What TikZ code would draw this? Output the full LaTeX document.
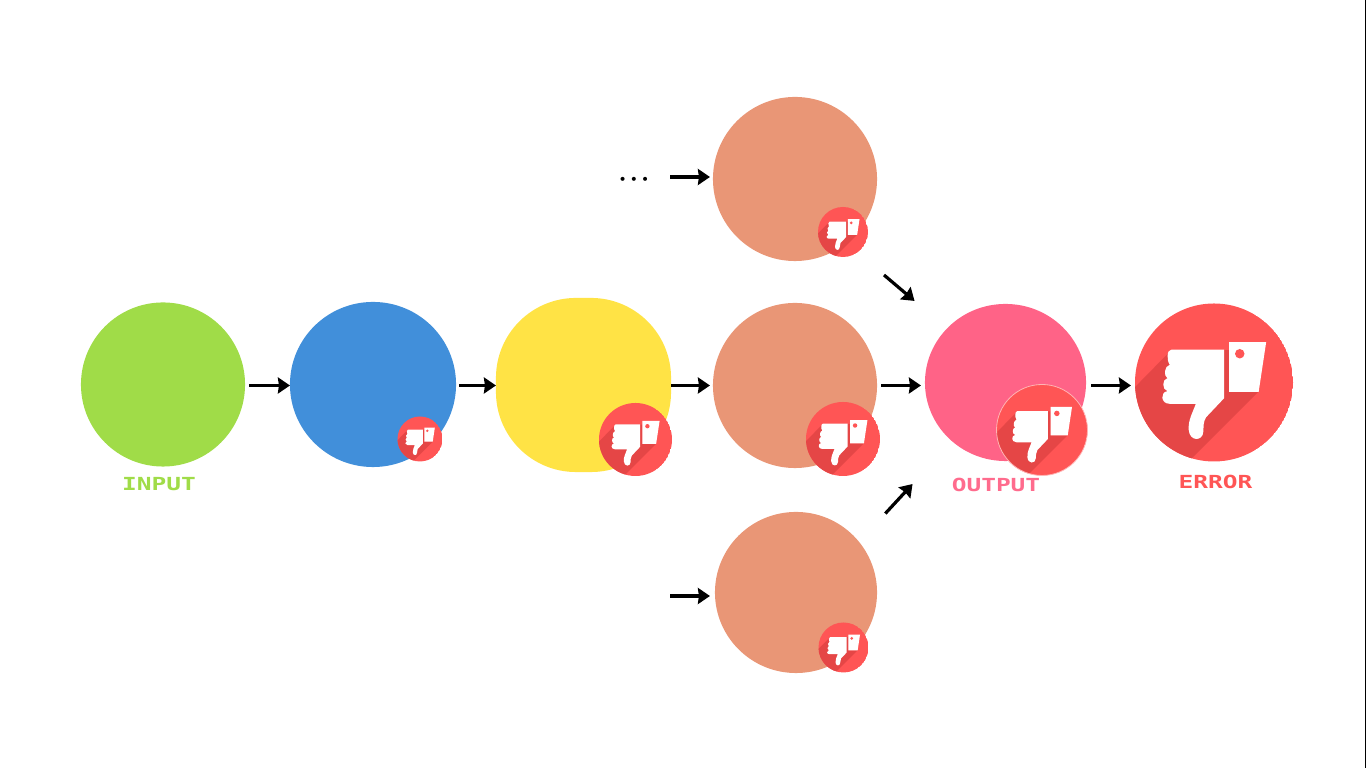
\documentclass[tikz,border=0pt]{standalone}
\usepackage{fontspec}
\usetikzlibrary{arrows.meta}
\usetikzlibrary{shapes.geometric}
\newfontfamily\labelfont{DejaVu Sans Mono}[FakeStretch=1.36]
\definecolor{inputgreen}{HTML}{A0DC48}
\definecolor{hiddenblue}{HTML}{418FDA}
\definecolor{hiddenyellow}{HTML}{FFE345}
\definecolor{hiddensalmon}{HTML}{E99676}
\definecolor{outputpink}{HTML}{FF6387}
\definecolor{errorred}{HTML}{FF5555}
\definecolor{shadowred}{HTML}{E54646}
\definecolor{rimred}{HTML}{FFB4B4}
\tikzset{
  blob/.style={ellipse, inner sep=0pt, outer sep=0pt},
  tag/.style={inner sep=0pt, font=\labelfont\bfseries\fontsize{5.12}{6}\selectfont},
  flow/.style={-{Stealth[length=0.12cm, width=0.16cm, inset=0.01cm]}, line width=0.032cm, black},
  thumbdown/.pic={
    \begin{scope}
      \clip (0,0) circle (100);
      \fill[errorred] (0,0) circle (100);
      \fill[shadowred] (-110,16) -- (-54,-41) -- (19,-41) -- (19,12) -- (56,12) -- (-44,112) -- (-110,112) -- cycle;
    \end{scope}
    \fill[white] (-54,-41.5) -- (12.7,-41.5) -- (12.7,20) -- (-10,44)
      .. controls (-14,50) and (-13,56) .. (-13.5,62)
      .. controls (-14,75) and (-31,75) .. (-32,60)
      .. controls (-33,48) and (-27,38) .. (-23,27) -- (-56,27)
      .. controls (-68,27) and (-68,12) .. (-59,11)
      .. controls (-66,9) and (-66,-4) .. (-59,-5.5)
      .. controls (-64,-8) and (-63,-21) .. (-56,-22.5)
      .. controls (-60,-28) and (-60,-41.5) .. (-54,-41.5) -- cycle;
    \fill[white] (19,-51) -- (66,-51) -- (56.5,12) -- (19,12) -- cycle;
    \fill[errorred] (32.6,-36.4) circle (6);
  }
}
\begin{document}
\begin{tikzpicture}[x=0.01cm, y=-0.01cm]
\useasboundingbox (0,0) rectangle (1366,768);
\fill[black] (1365,0) rectangle (1366,768);
\node[blob, fill=inputgreen, minimum width=1.64cm, minimum height=1.64cm] (inp) at (163,384.5) {};
\node[blob, fill=hiddenblue, minimum width=1.66cm, minimum height=1.65cm] (hidA) at (373,384.5) {};
\node[rounded corners=0.8cm, fill=hiddenyellow, inner sep=0pt, outer sep=0pt, minimum width=1.75cm, minimum height=1.74cm] (hidB) at (583.5,385) {};
\node[blob, fill=hiddensalmon, minimum width=1.64cm, minimum height=1.64cm] (hidTop) at (795,179) {};
\node[blob, fill=hiddensalmon, minimum width=1.64cm, minimum height=1.65cm] (hidMid) at (795,385.5) {};
\node[blob, fill=hiddensalmon, minimum width=1.62cm, minimum height=1.61cm] (hidBot) at (796,592.5) {};
\node[blob, fill=outputpink, minimum width=1.61cm, minimum height=1.57cm] (outp) at (1005.5,382.5) {};
\node[circle, inner sep=0pt, outer sep=0pt, minimum size=1.58cm] (err) at (1214,382.5) {};
\pic[shift={(420,439)}, scale=0.225] {thumbdown};
\pic[shift={(635.5,439.5)}, scale=0.365] {thumbdown};
\pic[shift={(843,232)}, scale=0.25] {thumbdown};
\pic[shift={(843,439)}, scale=0.37] {thumbdown};
\pic[shift={(843.5,647.5)}, scale=0.25] {thumbdown};
\pic[shift={(1042,430)}, scale=0.455] {thumbdown};
\draw[rimred, line width=0.008cm] (1042,430) circle (45.5);
\pic[shift={(1214,382.5)}, scale=0.79] {thumbdown};
\node[tag, text=inputgreen] (inpLabel) at (159,484.5) {INPUT};
\node[tag, text=outputpink!95!white] (outLabel) at (996,484.5) {OUTPUT};
\node[tag, text=errorred] (errLabel) at (1215.5,481.5) {ERROR};
\node[inner sep=0pt, font=\fontsize{6.6}{9}\selectfont\boldmath] (dots) at (634,179) {$\cdot\mskip-2.8mu\cdot\mskip-2.8mu\cdot$};
\coordinate (topIn) at (670,177);
\coordinate (botIn) at (670,596);
\draw[flow, shorten <=0.04cm] (inp.east |- 0,385.5) -- (hidA.west |- 0,385.5);
\draw[flow, shorten <=0.03cm] (hidA.east |- 0,385.5) -- (hidB.west |- 0,385.5);
\draw[flow, shorten >=0.03cm] (hidB.east |- 0,385.5) -- (hidMid.west |- 0,385.5);
\draw[flow, shorten <=0.04cm, shorten >=0.04cm] (hidMid.east |- 0,385.5) -- (outp.west |- 0,385.5);
\draw[flow, shorten <=0.05cm, shorten >=0.04cm] (outp.east |- 0,385.5) -- (err.west |- 0,385.5);
\draw[flow, shorten >=0.03cm] (topIn) -- (hidTop.west |- topIn);
\draw[flow, shorten >=0.05cm] (botIn) -- (hidBot.west |- botIn);
\draw[flow] ([shift={(31,38)}]hidTop.south east) -- ([shift={(-34,-26)}]outp.north west);
\draw[flow] ([shift={(32,-22)}]hidBot.north east) -- ([shift={(-36,46)}]outp.south west);
\end{tikzpicture}
\end{document}
